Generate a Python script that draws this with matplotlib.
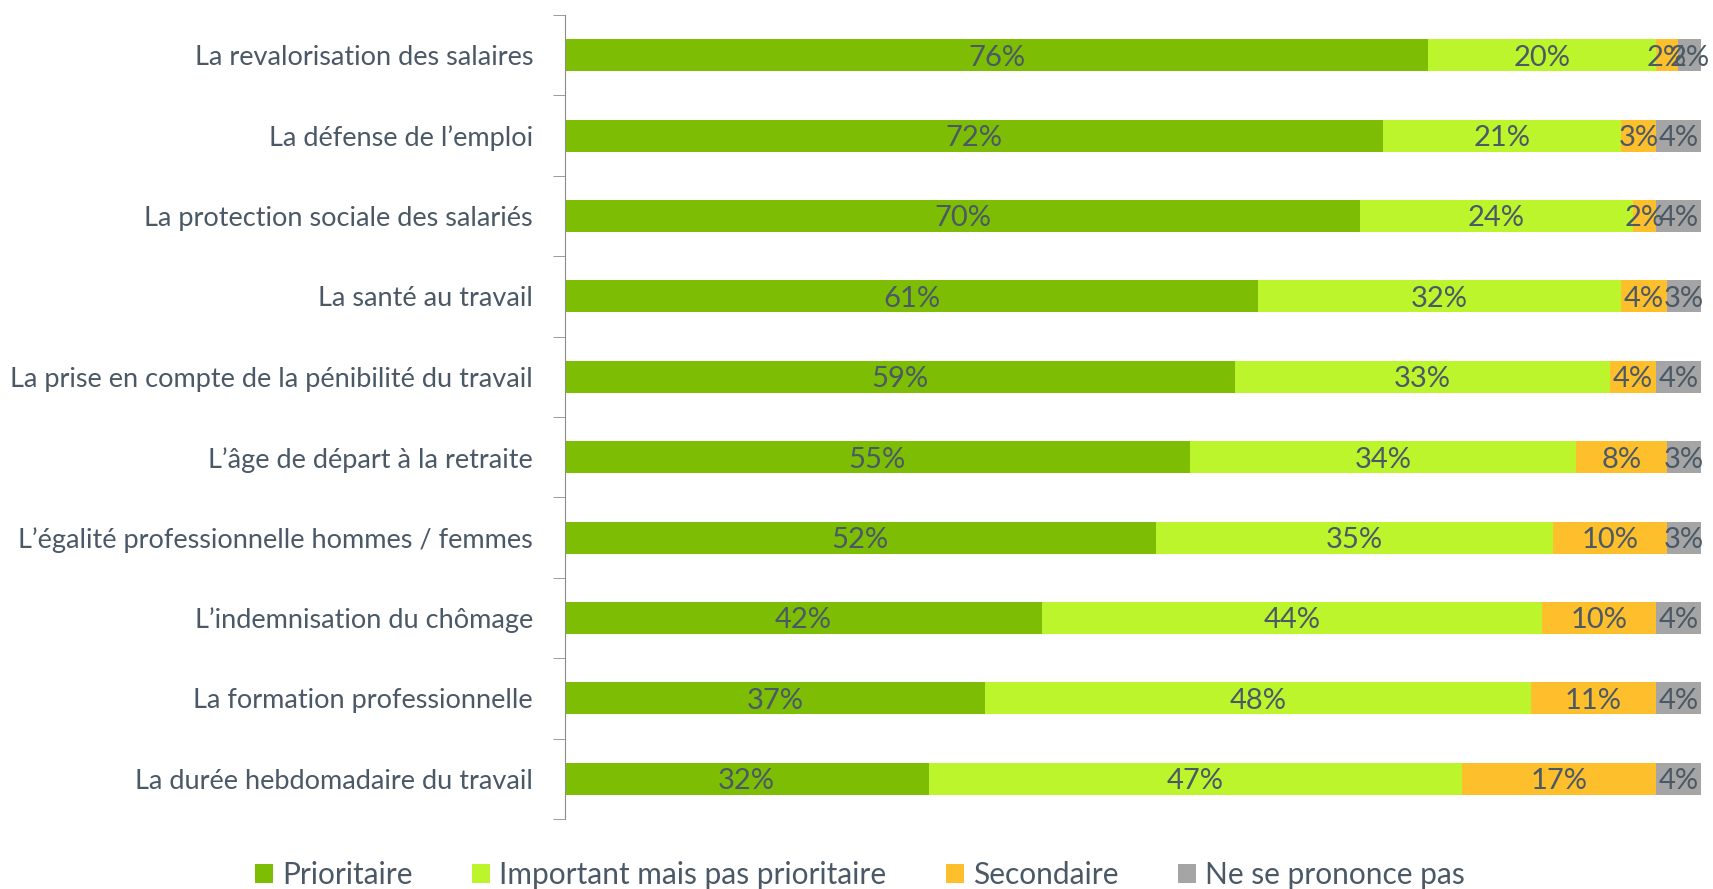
import numpy as np
import matplotlib
matplotlib.use('Agg')
import matplotlib.pyplot as plt

categories = [
    'La revalorisation des salaires',
    'La défense de l\u2019emploi',
    'La protection sociale des salariés',
    'La santé au travail',
    'La prise en compte de la pénibilité du travail',
    'L\u2019âge de départ à la retraite',
    'L\u2019égalité professionnelle hommes / femmes',
    'L\u2019indemnisation du chômage',
    'La formation professionnelle',
    'La durée hebdomadaire du travail',
]
series_names = ['Prioritaire', 'Important mais pas prioritaire', 'Secondaire', 'Ne se prononce pas']
prioritaire = [76, 72, 70, 61, 59, 55, 52, 42, 37, 32]
important = [20, 21, 24, 32, 33, 34, 35, 44, 48, 47]
secondaire = [2, 3, 2, 4, 4, 8, 10, 10, 11, 17]
nsp = [2, 4, 4, 3, 4, 3, 3, 4, 4, 4]

colors = ['#7dbe05', '#bdf52d', '#fdbf2b', '#a5a5a5']
text_color = '#4b5866'

plt.rcParams['font.family'] = ['Lato', 'DejaVu Sans']

fig = plt.figure(figsize=(17.13, 8.89), dpi=100)
ax = fig.add_axes([565 / 1713, 1 - 819 / 889, (1701 - 565) / 1713, (819 - 15) / 889])

y = np.arange(len(categories))
left = np.zeros(len(categories))
for name, vals, col in zip(series_names, [prioritaire, important, secondaire, nsp], colors):
    vals = np.array(vals, dtype=float)
    ax.barh(y, vals, left=left, height=0.4, color=col, label=name)
    for yi, l, v in zip(y, left, vals):
        ax.text(l + v / 2, yi + 0.03, f'{int(v)}%', ha='center', va='center',
                fontsize=21, color=text_color)
    left += vals

ax.set_xlim(0, 100)
ax.set_ylim(len(categories) - 0.5, -0.5)
ax.set_yticks(y)
ax.set_yticklabels(categories, fontsize=19.5, color=text_color)
ax.set_yticks(np.arange(-0.5, len(categories)), minor=True)
ax.tick_params(axis='y', which='major', length=0, pad=23)
ax.tick_params(axis='y', which='minor', length=9, color='#8c8c8c')
ax.set_xticks([])
for s in ['top', 'right', 'bottom']:
    ax.spines[s].set_visible(False)
ax.spines['left'].set_color('#8c8c8c')

leg = fig.legend(loc='center', bbox_to_anchor=(0.502, 1 - 875 / 889), ncol=4, frameon=False,
                 fontsize=21.5, handlelength=0.6, handleheight=0.6, handletextpad=0.3,
                 columnspacing=2.0)
for t in leg.get_texts():
    t.set_color(text_color)

fig.savefig('out.png', dpi=100)
